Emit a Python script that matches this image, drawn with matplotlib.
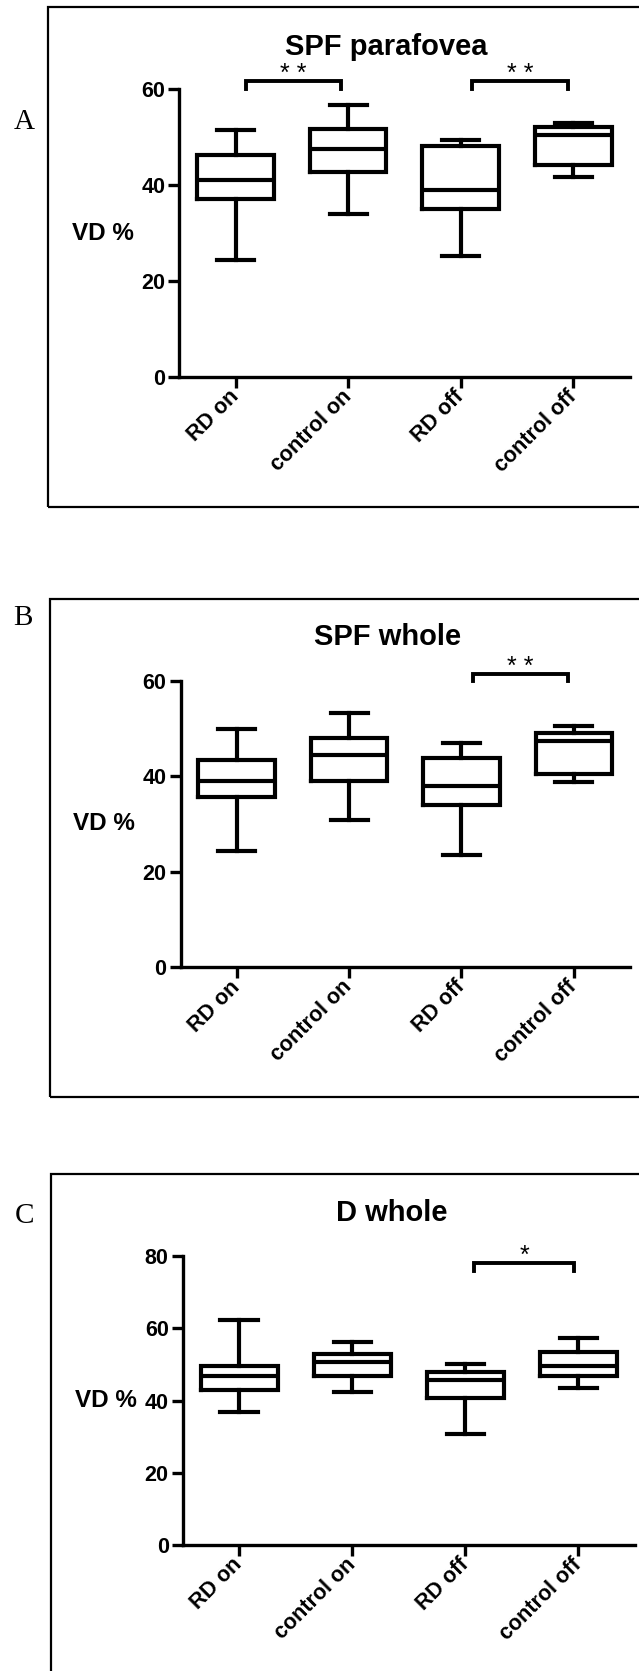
import matplotlib
matplotlib.use('Agg')
import matplotlib.pyplot as plt
from matplotlib.patches import Rectangle

plt.rcParams['font.family'] = ['Liberation Sans', 'DejaVu Sans']

groups = ['RD on', 'control on', 'RD off', 'control off']

# box stats: whisker low, q1, median, q3, whisker high
spf_para_lo = [24.4, 34.0, 25.2, 41.6]
spf_para_q1 = [37.0, 42.7, 35.1, 44.2]
spf_para_med = [41.1, 47.5, 39.0, 50.5]
spf_para_q3 = [46.2, 51.8, 48.2, 52.1]
spf_para_hi = [51.4, 56.8, 49.5, 52.9]

spf_whole_lo = [24.4, 30.8, 23.6, 38.7]
spf_whole_q1 = [35.6, 38.9, 34.0, 40.5]
spf_whole_med = [39.1, 44.5, 38.0, 47.4]
spf_whole_q3 = [43.3, 48.1, 43.8, 49.0]
spf_whole_hi = [49.8, 53.3, 47.0, 50.6]

d_whole_lo = [36.7, 42.3, 30.6, 43.5]
d_whole_q1 = [42.8, 46.7, 40.6, 46.9]
d_whole_med = [46.9, 50.6, 45.7, 49.7]
d_whole_q3 = [49.6, 52.8, 47.8, 53.6]
d_whole_hi = [62.2, 56.2, 50.2, 57.3]

# significance brackets: (start, end, bar height, leg bottom, label)
spf_para_sig = [(1.09, 1.94, 61.8, 60, '* *'), (3.10, 3.95, 61.8, 60, '* *')]
spf_whole_sig = [(3.10, 3.95, 61.5, 60, '* *')]
d_whole_sig = [(3.08, 3.96, 78.2, 76, '*')]

W, H = 639, 1671
fig = plt.figure(figsize=(W / 100, H / 100), dpi=100)


def px_axes(left, right, top, bottom):
    return fig.add_axes([left / W, 1 - bottom / H, (right - left) / W, (bottom - top) / H])


def panel(ax, lo, q1, med, q3, hi, ymax, sigs, title, title_xy, letter, letter_xy, frame):
    stats = []
    for i, g in enumerate(groups):
        stats.append(dict(label=g, whislo=lo[i], q1=q1[i], med=med[i],
                          q3=q3[i], whishi=hi[i], fliers=[]))
    lw = 3.0
    ax.bxp(stats, positions=[1, 2, 3, 4], widths=0.68, capwidths=0.33,
           showfliers=False,
           boxprops=dict(color='black', linewidth=lw, solid_joinstyle='miter'),
           medianprops=dict(color='black', linewidth=lw),
           whiskerprops=dict(color='black', linewidth=lw),
           capprops=dict(color='black', linewidth=lw))
    ax.set_xlim(0.5, 4.5)
    ax.set_ylim(0, ymax)
    ax.set_yticks(range(0, ymax + 1, 20))
    for s in ('top', 'right'):
        ax.spines[s].set_visible(False)
    for s in ('left', 'bottom'):
        ax.spines[s].set_linewidth(2.4)
    ax.tick_params(direction='out', length=8, width=2.4, labelsize=15.5, pad=2)
    ax.tick_params(axis='x', pad=4)
    ax.set_xticks([1, 2, 3, 4])
    ax.set_xticklabels(groups, rotation=45, ha='right', va='center',
                       rotation_mode='anchor', fontweight='bold')
    for t in ax.get_yticklabels():
        t.set_fontweight('bold')
    ax.set_ylabel('VD %', rotation=0, fontsize=17.5, fontweight='bold',
                  ha='center', va='center')
    ax.yaxis.set_label_coords(-0.17, 0.5)

    for x1, x2, yb, y0, lab in sigs:
        ax.plot([x1, x1, x2, x2], [y0, yb, yb, y0], color='black', lw=2.8,
                clip_on=False, solid_joinstyle='miter')
        ax.text((x1 + x2) / 2, yb, lab, ha='center', va='baseline',
                fontsize=18, clip_on=False)

    fig.text(title_xy[0] / W, 1 - title_xy[1] / H, title, ha='center',
             va='center', fontsize=21, fontweight='bold')
    fig.text(letter_xy[0] / W, 1 - letter_xy[1] / H, letter, ha='center',
             va='center', fontsize=21, family='Liberation Serif')
    fl, ft, fr, fb = frame
    fig.patches.append(Rectangle((fl / W, 1 - fb / H), (fr - fl) / W, (fb - ft) / H,
                                 transform=fig.transFigure, fill=False,
                                 edgecolor='black', linewidth=1.6, clip_on=False))


ax_a = px_axes(179.3, 629.6, 89.3, 376.7)
panel(ax_a, spf_para_lo, spf_para_q1, spf_para_med, spf_para_q3, spf_para_hi, 60,
      spf_para_sig, 'SPF parafovea', (386, 46.7), 'A', (24, 121.7),
      (47.7, 6.7, 700, 507))

ax_b = px_axes(180.5, 630, 680.7, 967.3)
panel(ax_b, spf_whole_lo, spf_whole_q1, spf_whole_med, spf_whole_q3, spf_whole_hi, 60,
      spf_whole_sig, 'SPF whole', (388, 636.7), 'B', (22.4, 618.3),
      (50, 598.5, 700, 1096.7))

ax_c = px_axes(182.6, 635, 1256.3, 1544.8)
panel(ax_c, d_whole_lo, d_whole_q1, d_whole_med, d_whole_q3, d_whole_hi, 80,
      d_whole_sig, 'D whole', (391.8, 1212.8), 'C', (24.4, 1216.3),
      (51, 1173.8, 700, 1750))

fig.savefig('out.png', dpi=100, facecolor='white')
